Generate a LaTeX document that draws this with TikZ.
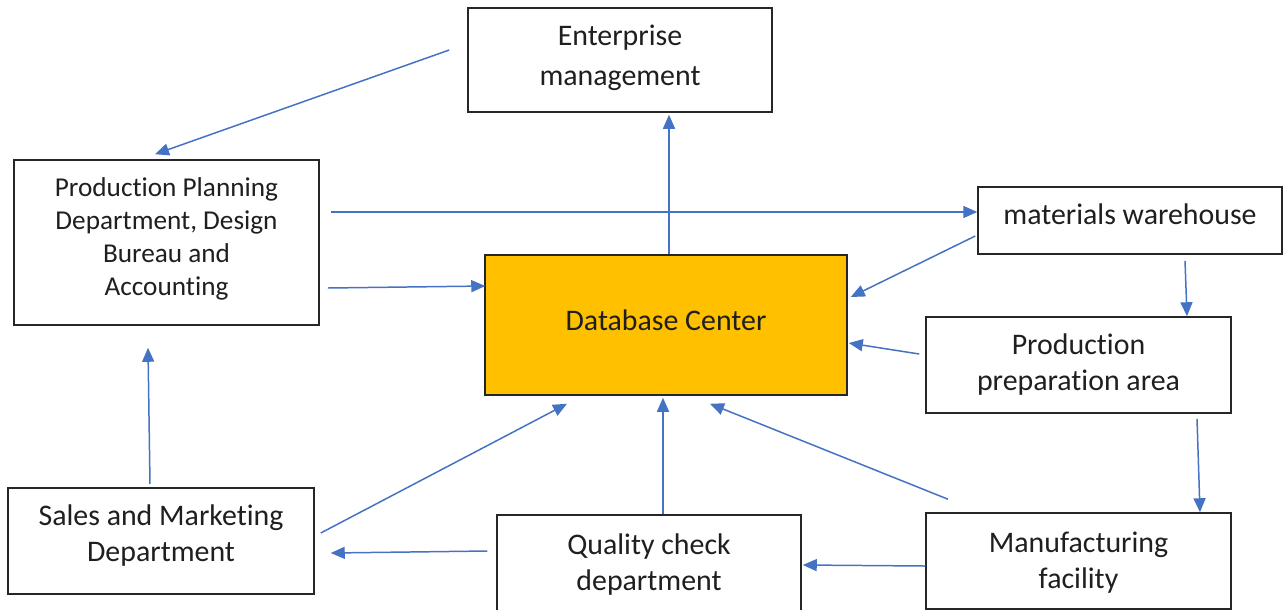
\documentclass[tikz,border=0pt]{standalone}
\usepackage{fontspec}
\setmainfont{Carlito}[Ligatures=NoCommon]
\usepackage{xcolor}
\usepackage{tikz}
\usetikzlibrary{positioning, arrows.meta, calc}
\definecolor{flow}{HTML}{4472C4}
\definecolor{edge}{HTML}{262626}
\definecolor{core}{HTML}{FFC000}
\definecolor{ink}{HTML}{1F1F1F}
\tikzset{
  box/.style   = {rectangle, draw=edge, line width=0.9pt, fill=white,
                  inner sep=0pt},
  dbbox/.style = {box, fill=core},
  txt/.style   = {align=center, text=ink, inner sep=0pt,
                  font=\fontsize{17}{20.5}\selectfont},
  arr/.style   = {-{Triangle[length=0.28cm,width=0.24cm]}, line width=0.85pt, draw=flow},
}

\begin{document}
\begin{tikzpicture}[x=0.02cm, y=-0.02cm]
  \useasboundingbox (0,0) rectangle (1283,609);

  % ----- boxes, text set as centre labels -----
  \node[box, minimum width=6.08cm, minimum height=2.08cm,
        label={[txt, font=\fontsize{17}{22.8}\selectfont, yshift=0.05cm]center:Enterprise\\management}]
        (ent) at (620,60) {};
  \node[box, minimum width=6.1cm, minimum height=3.3cm,
        label={[txt, font=\fontsize{15.5}{18.8}\selectfont, yshift=0.08cm]center:Production Planning\\Department, Design\\Bureau and\\Accounting}]
        (ppd) at (166.5,242.5) {};
  \node[box, minimum width=6.08cm, minimum height=1.34cm,
        label={[txt, yshift=0.12cm]center:materials warehouse}]
        (mw) at (1130,220.5) {};
  \node[dbbox, minimum width=7.24cm, minimum height=2.8cm,
        label={[txt, yshift=0.1cm]center:Database Center}]
        (db) at (666,325) {};
  \node[box, minimum width=6.1cm, minimum height=1.92cm,
        label={[txt]center:Production\\preparation area}]
        (prep) at (1078.5,365) {};
  \node[box, minimum width=6.12cm, minimum height=2.12cm,
        label={[txt, yshift=0.1cm]center:Sales and Marketing\\Department}]
        (sales) at (161,541) {};
  \node[box, minimum width=6.08cm, minimum height=1.92cm,
        label={[txt, yshift=-0.04cm]center:Quality check\\department}]
        (qc) at (649,563) {};
  \node[box, minimum width=6.1cm, minimum height=1.92cm,
        label={[txt, yshift=-0.04cm]center:Manufacturing\\facility}]
        (mfg) at (1078.5,561) {};

  % ----- connectors -----
  \draw[arr] ($(ent.west)+(-18,-10)$) -- ($(ppd.north)+(-11.5,-5)$);
  \draw[arr] ($(ppd.east)+(11,-30.5)$) -- ($(mw.west)+(0,-8.5)$);
  \draw[arr] ($(ppd.east)+(8,45.5)$) -- ($(db.west)+(1,-39)$);
  \draw[arr] ($(db.north)+(3,0)$) -- ($(ent.south)+(49,2)$);
  \draw[arr] ($(mw.west)+(-2,15.5)$) -- ($(db.east)+(3,-28)$);
  \draw[arr] ($(mw.south)+(55,6)$) -- ($(prep.north)+(108.5,0)$);
  \draw[arr] ($(prep.west)+(-6,-11)$) -- ($(db.east)+(1,18)$);
  \draw[arr] ($(prep.south)+(118.5,5)$) -- ($(mfg.north)+(121.5,0)$);
  \draw[arr] ($(mfg.north)+(-130.5,-13)$) -- ($(db.south)+(44,8)$);
  \draw[arr] ($(qc.north)+(14,0)$) -- ($(db.south)+(-3,2)$);
  \draw[arr] ($(sales.east)+(6,-8)$) -- ($(db.south)+(-99,8)$);
  \draw[arr] ($(qc.west)+(-9,-12)$) -- ($(sales.east)+(16,12)$);
  \draw[arr] ($(mfg.west)+(0,5)$) -- ($(qc.east)+(1,2)$);
  \draw[arr] ($(sales.north)+(-11,-3)$) -- ($(ppd.south)+(-18.5,22)$);

\end{tikzpicture}
\end{document}
